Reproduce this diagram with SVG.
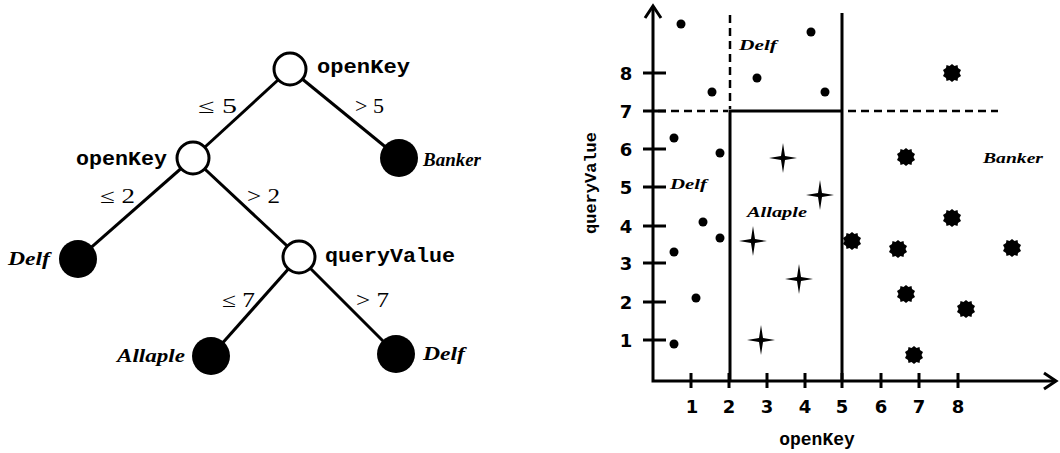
<svg xmlns="http://www.w3.org/2000/svg" width="1060" height="453" viewBox="0 0 1060 453">
<style>
.edge{stroke:#000;stroke-width:3;fill:none}
.inner{fill:#fff;stroke:#000;stroke-width:3}
.leaf{fill:#000}
.mono{font-family:"Liberation Mono","Courier New",monospace;font-weight:bold;fill:#000}
.cls{font-family:"Liberation Serif","Times New Roman",serif;font-style:italic;font-weight:bold;fill:#000}
.cond{font-family:"Liberation Serif","Times New Roman",serif;font-size:20px;fill:#000}
.ax{stroke:#000;stroke-width:3;fill:none}
.dash{stroke:#000;stroke-width:2.5;fill:none;stroke-dasharray:8,5}
.num{font-family:"DejaVu Sans",sans-serif;font-weight:bold;font-size:18px;fill:#000}
</style>
<defs>
<path id="star" d="M-14,0 L-2,-2 L0,-15 L2,-2 L14,0 L2,2 L0,15 L-2,2 Z" fill="#000"/>
<path id="blob" d="M0,-9 L2.5,-7 L5.5,-8 L6,-5 L9,-3 L7.5,0 L9,3 L6,5 L5.5,8 L2.5,7 L0,9 L-2.5,7 L-5.5,8 L-6,5 L-9,3 L-7.5,0 L-9,-3 L-6,-5 L-5.5,-8 L-2.5,-7 Z" fill="#000"/>
</defs>

<g id="connectors">
<line class="edge" x1="290" y1="69" x2="193" y2="158"/>
<line class="edge" x1="290" y1="69" x2="399" y2="158"/>
<line class="edge" x1="193" y1="158" x2="78" y2="259"/>
<line class="edge" x1="193" y1="158" x2="299" y2="257"/>
<line class="edge" x1="299" y1="257" x2="211" y2="356"/>
<line class="edge" x1="299" y1="257" x2="396" y2="354"/>
<text class="cond" x="198" y="113" textLength="39" lengthAdjust="spacingAndGlyphs">≤ 5</text>
<text class="cond" x="355" y="113" textLength="29" lengthAdjust="spacingAndGlyphs">&gt; 5</text>
<text class="cond" x="100" y="203" textLength="35" lengthAdjust="spacingAndGlyphs">≤ 2</text>
<text class="cond" x="247" y="203" textLength="33" lengthAdjust="spacingAndGlyphs">&gt; 2</text>
<text class="cond" x="222" y="307" textLength="33" lengthAdjust="spacingAndGlyphs">≤ 7</text>
<text class="cond" x="356" y="307" textLength="33" lengthAdjust="spacingAndGlyphs">&gt; 7</text>
</g>

<g id="root">
<circle class="inner" cx="290" cy="69" r="16"/>
<text class="mono" x="317" y="73" font-size="21" textLength="93" lengthAdjust="spacingAndGlyphs">openKey</text>
</g>
<g id="node-openKey">
<circle class="inner" cx="193" cy="158" r="16"/>
<text class="mono" x="76" y="165" font-size="21" textLength="91" lengthAdjust="spacingAndGlyphs">openKey</text>
</g>
<g id="leaf-banker">
<circle class="leaf" cx="399" cy="158" r="19"/>
<text class="cls" x="423" y="166" font-size="19" textLength="58" lengthAdjust="spacingAndGlyphs">Banker</text>
</g>
<g id="leaf-delf1">
<circle class="leaf" cx="78" cy="259" r="19"/>
<text class="cls" x="8" y="265" font-size="19" textLength="42" lengthAdjust="spacingAndGlyphs">Delf</text>
</g>
<g id="node-queryValue">
<circle class="inner" cx="299" cy="257" r="16"/>
<text class="mono" x="325" y="262" font-size="21" textLength="130" lengthAdjust="spacingAndGlyphs">queryValue</text>
</g>
<g id="leaf-allaple">
<circle class="leaf" cx="211" cy="356" r="19"/>
<text class="cls" x="117" y="362" font-size="19" textLength="68" lengthAdjust="spacingAndGlyphs">Allaple</text>
</g>
<g id="leaf-delf2">
<circle class="leaf" cx="396" cy="354" r="19"/>
<text class="cls" x="423" y="360" font-size="19" textLength="42" lengthAdjust="spacingAndGlyphs">Delf</text>
</g>

<g id="plot">
<path class="ax" d="M653,6 L653,381 L1056,381"/>
<path class="ax" d="M645,18 L653,6 L661,18"/>
<path class="ax" d="M1044,373 L1056,381 L1044,389"/>
<g class="ax" stroke-width="2.5">
<line x1="643" y1="73" x2="666" y2="73"/>
<line x1="643" y1="111" x2="666" y2="111"/>
<line x1="643" y1="149" x2="666" y2="149"/>
<line x1="643" y1="187" x2="666" y2="187"/>
<line x1="643" y1="226" x2="666" y2="226"/>
<line x1="643" y1="263" x2="666" y2="263"/>
<line x1="643" y1="302" x2="666" y2="302"/>
<line x1="643" y1="340" x2="666" y2="340"/>
<line x1="691" y1="373" x2="691" y2="388"/>
<line x1="729" y1="373" x2="729" y2="388"/>
<line x1="767" y1="373" x2="767" y2="388"/>
<line x1="805" y1="373" x2="805" y2="388"/>
<line x1="842" y1="373" x2="842" y2="388"/>
<line x1="881" y1="373" x2="881" y2="388"/>
<line x1="919" y1="373" x2="919" y2="388"/>
<line x1="958" y1="373" x2="958" y2="388"/>
</g>
<g class="num" text-anchor="middle">
<text x="626" y="80">8</text>
<text x="626" y="118">7</text>
<text x="626" y="156">6</text>
<text x="626" y="194">5</text>
<text x="626" y="233">4</text>
<text x="626" y="270">3</text>
<text x="626" y="309">2</text>
<text x="626" y="347">1</text>
<text x="692" y="413">1</text>
<text x="729" y="413">2</text>
<text x="767" y="413">3</text>
<text x="805" y="413">4</text>
<text x="842" y="413">5</text>
<text x="881" y="413">6</text>
<text x="919" y="413">7</text>
<text x="958" y="413">8</text>
</g>
<text class="mono" x="817" y="445" font-size="18" text-anchor="middle">openKey</text>
<text class="mono" x="0" y="0" font-size="17" text-anchor="middle" transform="translate(596,183) rotate(-90)">queryValue</text>

<path class="ax" d="M730,381 L730,111 L842,111"/>
<line class="ax" x1="842" y1="13" x2="842" y2="381"/>
<line class="dash" x1="658" y1="111" x2="728" y2="111"/>
<line class="dash" x1="730" y1="15" x2="730" y2="109"/>
<line class="dash" x1="848" y1="111" x2="998" y2="111"/>

<text class="cls" x="739" y="50" font-size="15" textLength="38" lengthAdjust="spacingAndGlyphs">Delf</text>
<text class="cls" x="670" y="189" font-size="15" textLength="37" lengthAdjust="spacingAndGlyphs">Delf</text>
<text class="cls" x="747" y="217" font-size="15" textLength="60" lengthAdjust="spacingAndGlyphs">Allaple</text>
<text class="cls" x="983" y="163" font-size="15" textLength="60" lengthAdjust="spacingAndGlyphs">Banker</text>

<g fill="#000">
<circle cx="681" cy="24" r="4.5"/>
<circle cx="811" cy="32" r="4.5"/>
<circle cx="757" cy="78" r="4.5"/>
<circle cx="712" cy="92" r="4.5"/>
<circle cx="825" cy="92" r="4.5"/>
<circle cx="674" cy="138" r="4.5"/>
<circle cx="720" cy="153" r="4.5"/>
<circle cx="703" cy="222" r="4.5"/>
<circle cx="720" cy="238" r="4.5"/>
<circle cx="674" cy="252" r="4.5"/>
<circle cx="696" cy="298" r="4.5"/>
<circle cx="674" cy="344" r="4.5"/>
</g>
<use href="#star" x="783" y="158"/>
<use href="#star" x="820" y="195"/>
<use href="#star" x="753" y="241"/>
<use href="#star" x="799" y="279"/>
<use href="#star" x="761" y="340"/>
<use href="#blob" x="952" y="73"/>
<use href="#blob" x="906" y="157"/>
<use href="#blob" x="952" y="218"/>
<use href="#blob" x="852" y="241"/>
<use href="#blob" x="898" y="249"/>
<use href="#blob" x="1012" y="248"/>
<use href="#blob" x="906" y="294"/>
<use href="#blob" x="966" y="309"/>
<use href="#blob" x="914" y="355"/>
</g>
</svg>
